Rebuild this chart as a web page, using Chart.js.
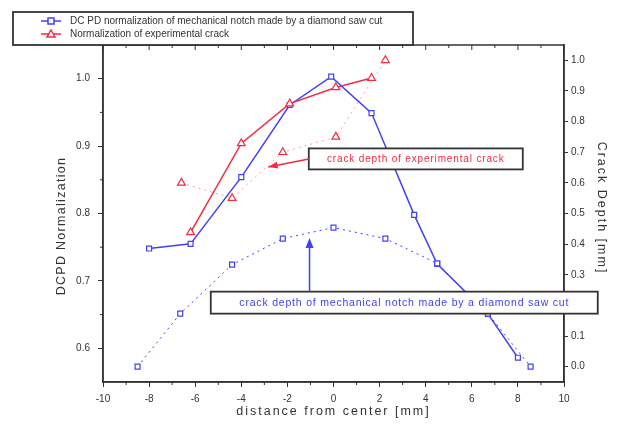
<!DOCTYPE html>
<html>
<head>
<meta charset="utf-8">
<script src="https://cdn.jsdelivr.net/npm/chart.js@4"></script>
<style>
  html, body { margin: 0; padding: 0; background: #fff; }
  #wrap { width: 631px; height: 435px; }
</style>
</head>
<body>
<div id="wrap"><canvas id="c" width="631" height="435"></canvas></div>
<script>
// ---- data ----
// DCPD normalization, mechanical notch (left axis)
const xNotch = [-8, -6.2, -4, -1.9, -0.1, 1.65, 3.5, 4.5, 6.7, 8];
const yNotch = [0.748, 0.755, 0.854, 0.961, 1.003, 0.949, 0.798, 0.725, 0.651, 0.586];
// DCPD normalization, experimental crack (left axis)
const xCrack = [-6.2, -4, -1.9, 0.1, 1.65];
const yCrack = [0.772, 0.904, 0.963, 0.987, 1.001];
// crack depth of mechanical notch (right axis, mm)
const xNotchDepth = [-8.5, -6.65, -4.4, -2.2, 0, 2.25, 4.5, 6.7, 8.55];
const yNotchDepth = [0.0, 0.173, 0.333, 0.418, 0.454, 0.418, 0.337, 0.173, 0.0];
// crack depth of experimental crack (right axis, mm)
const xCrackDepth = [-6.6, -4.4, -2.2, 0.1, 2.25];
const yCrackDepth = [0.6, 0.55, 0.7, 0.75, 1.0];

const xTicks = [-10, -8, -6, -4, -2, 0, 2, 4, 6, 8, 10];
const leftTicks = [0.6, 0.7, 0.8, 0.9, 1.0];
const rightTicks = [0.0, 0.1, 0.2, 0.3, 0.4, 0.5, 0.6, 0.7, 0.8, 0.9, 1.0];

const legendLabels = [
  'DC PD normalization of mechanical notch made by a diamond saw cut',
  'Normalization of experimental crack'
];
const xTitle = 'distance from center [mm]';
const yTitle = 'DCPD Normalization';
const y1Title = 'Crack Depth [mm]';
const noteCrack = 'crack depth of experimental crack';
const noteNotch = 'crack depth of mechanical notch made by a diamond saw cut';

const BLUE = '#4040f8';
const RED = '#f52a40';
const INK = '#333';
const FONT = 'Arial, "Liberation Sans", sans-serif';

const pts = (xs, ys) => xs.map((x, i) => ({ x: x, y: ys[i] }));

function tick(ctx, x1, y1, x2, y2) {
  ctx.beginPath(); ctx.moveTo(x1, y1); ctx.lineTo(x2, y2); ctx.stroke();
}

// frame, minor ticks, axis titles, legend and the two note boxes
const extras = {
  id: 'extras',
  afterDraw(chart) {
    const ctx = chart.ctx;
    const a = chart.chartArea;
    const sx = chart.scales.x, sy = chart.scales.y, sr = chart.scales.y1;
    ctx.save();
    ctx.strokeStyle = INK;
    ctx.lineWidth = 1.5;
    ctx.strokeRect(a.left, a.top, a.right - a.left, a.bottom - a.top);

    // minor ticks
    ctx.lineWidth = 1;
    for (let v = -9; v <= 9; v += 2) {
      const px = sx.getPixelForValue(v);
      tick(ctx, px, a.bottom, px, a.bottom + 3);
      tick(ctx, px, a.top, px, a.top + 3);
    }
    xTicks.forEach(v => {
      const px = sx.getPixelForValue(v);
      tick(ctx, px, a.top, px, a.top + 5);
    });
    [0.65, 0.75, 0.85, 0.95, 1.05].forEach(v => {
      const py = sy.getPixelForValue(v);
      tick(ctx, a.left, py, a.left - 3, py);
    });

    // axis titles, wide spacing as in the original
    ctx.fillStyle = INK;
    ctx.textBaseline = 'middle';
    ctx.textAlign = 'center';
    ctx.font = '12.5px ' + FONT;
    ctx.letterSpacing = '2px';
    ctx.fillText(xTitle, (a.left + a.right) / 2, 412);
    ctx.save();
    ctx.translate(62, 226);
    ctx.rotate(-Math.PI / 2);
    ctx.letterSpacing = '1.3px';
    ctx.fillText(yTitle, 0, 0);
    ctx.restore();
    ctx.save();
    ctx.translate(601, 208);
    ctx.rotate(Math.PI / 2);
    ctx.letterSpacing = '2px';
    ctx.fillText(y1Title, 0, 0);
    ctx.restore();

    // note 1: experimental crack, arrow to the left
    ctx.font = '10px ' + FONT;
    ctx.letterSpacing = '0.85px';
    let cx = sx.getPixelForValue(3.57), cy = sy.getPixelForValue(0.881);
    let w = 214, h = 21;
    ctx.fillStyle = '#fff';
    ctx.fillRect(cx - w / 2, cy - h / 2, w, h);
    ctx.lineWidth = 1.8; ctx.strokeStyle = INK;
    ctx.strokeRect(cx - w / 2, cy - h / 2, w, h);
    ctx.fillStyle = RED;
    ctx.fillText(noteCrack, cx, cy + 0.5);
    const tx = sx.getPixelForValue(-2.83), ty = sy.getPixelForValue(0.869);
    const fx = cx - w / 2, fy = cy;
    ctx.strokeStyle = RED; ctx.fillStyle = RED; ctx.lineWidth = 1.5;
    tick(ctx, fx, fy, tx, ty);
    const ang = Math.atan2(ty - fy, tx - fx);
    ctx.beginPath();
    ctx.moveTo(tx, ty);
    ctx.lineTo(tx - 10 * Math.cos(ang - 0.35), ty - 10 * Math.sin(ang - 0.35));
    ctx.lineTo(tx - 10 * Math.cos(ang + 0.35), ty - 10 * Math.sin(ang + 0.35));
    ctx.closePath(); ctx.fill();

    // note 2: mechanical notch, arrow upward
    ctx.font = '10.5px ' + FONT;
    ctx.letterSpacing = '0.8px';
    cx = sx.getPixelForValue(3.07); cy = sr.getPixelForValue(0.209);
    w = 387; h = 22;
    ctx.fillStyle = '#fff';
    ctx.fillRect(cx - w / 2, cy - h / 2, w, h);
    ctx.lineWidth = 1.8; ctx.strokeStyle = INK;
    ctx.strokeRect(cx - w / 2, cy - h / 2, w, h);
    ctx.fillStyle = BLUE;
    ctx.fillText(noteNotch, cx, cy + 0.5);
    const ax = sx.getPixelForValue(-1.04), ay = sr.getPixelForValue(0.41);
    ctx.strokeStyle = BLUE; ctx.fillStyle = BLUE; ctx.lineWidth = 1.5;
    tick(ctx, ax, cy - h / 2, ax, ay);
    ctx.beginPath();
    ctx.moveTo(ax, ay - 3);
    ctx.lineTo(ax - 4, ay + 7);
    ctx.lineTo(ax + 4, ay + 7);
    ctx.closePath(); ctx.fill();

    // legend
    ctx.fillStyle = '#fff';
    ctx.fillRect(13, 12, 400, 33);
    ctx.lineWidth = 1.8; ctx.strokeStyle = INK;
    ctx.strokeRect(13, 12, 400, 33);
    ctx.font = '10px ' + FONT;
    ctx.letterSpacing = '0px';
    ctx.textAlign = 'left';
    const rows = [[BLUE, 'rect'], [RED, 'triangle']];
    rows.forEach((r, i) => {
      const y = 21 + i * 13;
      ctx.strokeStyle = r[0]; ctx.lineWidth = 1.5;
      tick(ctx, 41, y, 61, y);
      ctx.fillStyle = '#fff';
      if (r[1] === 'rect') {
        ctx.fillRect(48, y - 3, 6, 6); ctx.strokeRect(48, y - 3, 6, 6);
      } else {
        ctx.beginPath(); ctx.moveTo(51, y - 4); ctx.lineTo(55, y + 3); ctx.lineTo(47, y + 3);
        ctx.closePath(); ctx.fill(); ctx.stroke();
      }
      ctx.fillStyle = INK;
      ctx.fillText(legendLabels[i], 70, y + 0.5);
    });
    ctx.restore();
  }
};

const tickFont = { family: FONT, size: 10 };

new Chart(document.getElementById('c'), {
  type: 'scatter',
  data: {
    datasets: [
      {
        data: pts(xNotchDepth, yNotchDepth), yAxisID: 'y1', showLine: true,
        borderColor: BLUE, borderWidth: 1, borderDash: [2, 4],
        pointStyle: 'rect', pointRadius: 3.5, pointBorderColor: BLUE,
        pointBackgroundColor: '#fff', pointBorderWidth: 1.2
      },
      {
        data: pts(xCrackDepth, yCrackDepth), yAxisID: 'y1', showLine: true,
        borderColor: 'rgba(245,42,64,0.45)', borderWidth: 1, borderDash: [2, 4],
        pointStyle: 'triangle', pointRadius: 4.5, pointBorderColor: RED,
        pointBackgroundColor: '#fff', pointBorderWidth: 1.2
      },
      {
        data: pts(xCrack, yCrack), yAxisID: 'y', showLine: true,
        borderColor: RED, borderWidth: 1.5,
        pointStyle: 'triangle', pointRadius: 4.5, pointBorderColor: RED,
        pointBackgroundColor: '#fff', pointBorderWidth: 1.2
      },
      {
        data: pts(xNotch, yNotch), yAxisID: 'y', showLine: true,
        borderColor: BLUE, borderWidth: 1.5,
        pointStyle: 'rect', pointRadius: 3.5, pointBorderColor: BLUE,
        pointBackgroundColor: '#fff', pointBorderWidth: 1.2
      }
    ]
  },
  options: {
    responsive: false,
    animation: false,
    layout: { padding: { left: 48, right: 20, top: 45, bottom: 11 } },
    plugins: { legend: { display: false }, tooltip: { enabled: false } },
    scales: {
      x: {
        type: 'linear', position: 'bottom', min: -10, max: 10,
        afterBuildTicks: s => { s.ticks = xTicks.map(v => ({ value: v })); },
        afterFit: s => { s.height = 42; },
        grid: { drawOnChartArea: false, tickLength: 5, color: INK },
        border: { color: INK, width: 1.5 },
        ticks: { font: tickFont, color: INK, padding: 6, maxRotation: 0 }
      },
      y: {
        position: 'left', min: 0.55, max: 1.05,
        afterBuildTicks: s => { s.ticks = leftTicks.map(v => ({ value: v })); },
        afterFit: s => { s.width = 55; },
        grid: { drawOnChartArea: false, tickLength: 5, color: INK },
        border: { color: INK, width: 1.5 },
        ticks: { font: tickFont, color: INK, padding: 8, callback: v => v.toFixed(1) }
      },
      y1: {
        position: 'right', min: -0.05, max: 1.05,
        afterBuildTicks: s => { s.ticks = rightTicks.map(v => ({ value: v })); },
        afterFit: s => { s.width = 47; },
        grid: { drawOnChartArea: false, tickLength: 4, color: INK },
        border: { color: INK, width: 1.5 },
        ticks: { font: tickFont, color: INK, padding: 3, callback: v => v.toFixed(1) }
      }
    }
  },
  plugins: [extras]
});
</script>
</body>
</html>
